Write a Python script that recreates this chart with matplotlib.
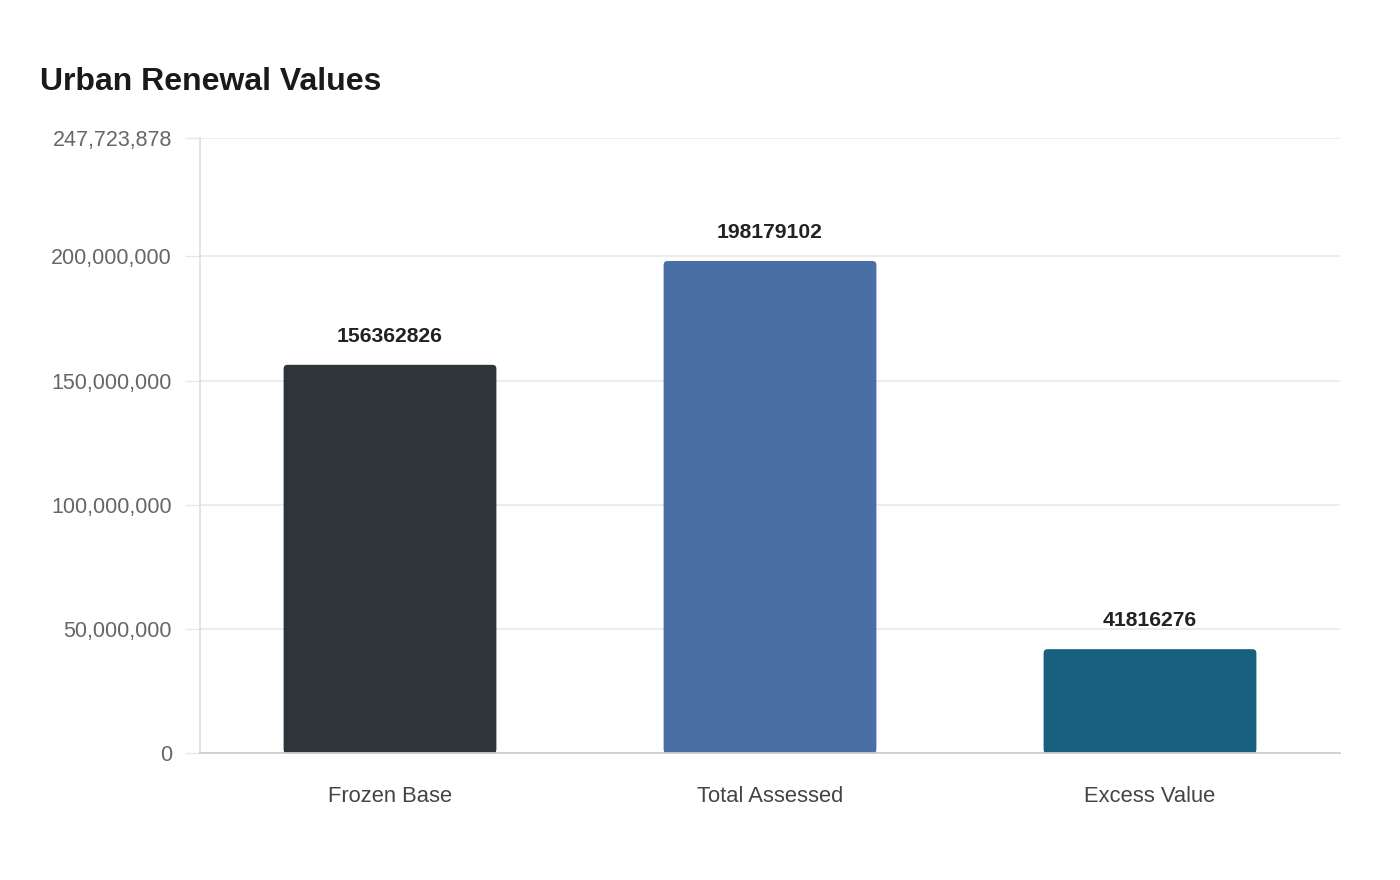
import matplotlib
matplotlib.use('Agg')
import matplotlib.pyplot as plt
import matplotlib.patches as mpatches
from matplotlib.ticker import FuncFormatter

# --- data ---
categories = ['Frozen Base', 'Total Assessed', 'Excess Value']
values = [156362826, 198179102, 41816276]
bar_colors = ['#2E3538', '#4A6FA5', '#17607F']
y_max = 247723878
y_ticks = [0, 50000000, 100000000, 150000000, 200000000, y_max]

plt.rcParams['font.family'] = ['Liberation Sans', 'DejaVu Sans']

fig = plt.figure(figsize=(14, 8.8), dpi=100, facecolor='white')
ax = fig.add_axes([200 / 1400, 127 / 880, 1140 / 1400, 615 / 880])

x = list(range(len(categories)))
bars = ax.bar(x, values, width=0.56, color=bar_colors, zorder=2)
ax.set_xlim(-0.5, len(categories) - 0.5)
ax.set_ylim(0, y_max)

# rounded top corners: swap each bar for a rounded box + square bottom half
px_x = (len(categories)) / 1140.0
px_y = y_max / 615.0
for b, c in zip(bars, bar_colors):
    bx, bw, bh = b.get_x(), b.get_width(), b.get_height()
    b.set_visible(False)
    r = 4 * px_x
    ax.add_patch(mpatches.FancyBboxPatch(
        (bx, 0), bw, bh, boxstyle=f"round,pad=0,rounding_size={r}",
        mutation_aspect=px_y / px_x, facecolor=c, edgecolor='none', zorder=2))
    ax.add_patch(mpatches.Rectangle((bx, 0), bw, bh / 2, facecolor=c,
                                    edgecolor='none', zorder=2))

for xi, v in zip(x, values):
    ax.annotate(str(v), (xi, v), xytext=(0, 19), textcoords='offset pixels',
                ha='center', va='bottom', fontsize=15.2, fontweight='bold',
                color='#222222')

ax.set_yticks(y_ticks)
ax.yaxis.set_major_formatter(FuncFormatter(lambda v, p: f"{int(round(v)):,}"))
ax.set_xticks(x)
ax.set_xticklabels(categories)

ax.grid(axis='y', color='#EBEBEB', linewidth=1.3, zorder=0)
ax.set_axisbelow(True)
ax.tick_params(axis='y', length=10.8, width=1.0, color='#E6E6E6', pad=9.5,
               labelsize=15.5, labelcolor='#666666')
ax.tick_params(axis='x', length=0, pad=24, labelsize=15.8, labelcolor='#444444')

for s in ['top', 'right']:
    ax.spines[s].set_visible(False)
ax.spines['left'].set_color('#DDDDDD')
ax.spines['left'].set_linewidth(1.2)
ax.spines['bottom'].set_color('#CCCCCC')
ax.spines['bottom'].set_linewidth(1.3)

fig.text(40 / 1400, 1 - 82 / 880, 'Urban Renewal Values', fontsize=23,
         fontweight='bold', color='#1A1A1A', ha='left', va='center')

fig.savefig('out.png', dpi=100, facecolor='white')
